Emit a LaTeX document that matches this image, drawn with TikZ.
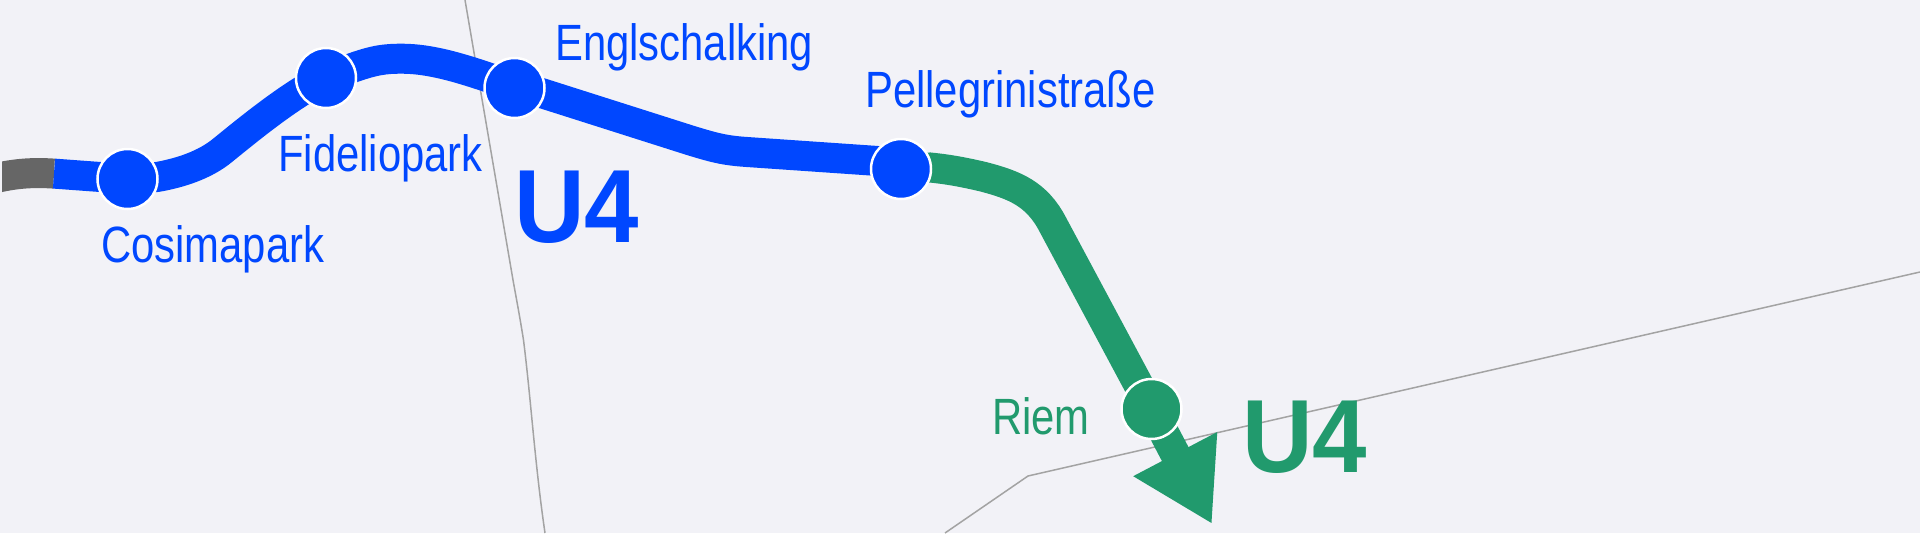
\documentclass[tikz,border=0pt]{standalone}
\usepackage{fontspec}
\setmainfont{Liberation Sans}
\usepackage{xcolor}
\usetikzlibrary{arrows.meta,backgrounds,positioning}
\definecolor{pagebg}{HTML}{F2F2F7}
\definecolor{lineblue}{HTML}{0047FF}
\definecolor{linegreen}{HTML}{219A6D}
\definecolor{linegray}{HTML}{666666}
\definecolor{thingray}{HTML}{A3A3A3}

\begin{document}
\begin{tikzpicture}[x=1pt, y=-1pt, >={Triangle[length=79pt,width=89pt]}, track/.style={line width=30pt}, border/.style={draw=thingray, line width=1.5pt}]
    % Define styles for stations, their names and the line badges
    \tikzstyle{station} = [circle, draw=white, line width=2.5pt, minimum size=60pt, inner sep=0pt]
    \tikzstyle{stationname} = [anchor=base west, inner sep=0pt, font=\fontsize{51}{51}\selectfont, xscale=0.82, transform shape]
    \tikzstyle{linename} = [anchor=base west, inner sep=0pt, font=\fontsize{104}{104}\selectfont\bfseries, xscale=0.94, transform shape]

    \useasboundingbox (0,0) rectangle (1920,533);

    % Nodes placement
    \node [station, fill=lineblue] (cosimapark) at (127.5,179) {};
    \node [station, fill=lineblue] (fideliopark) at (326,78) {};
    \node [station, fill=lineblue] (englschalking) at (514.5,88) {};
    \node [station, fill=lineblue] (pellegrini) at (901,169) {};
    \node [station, fill=linegreen] (riem) at (1151.5,409) {};
    \coordinate (linestart) at (-8,179);
    \coordinate (grayend) at (54,173.6);
    \coordinate (lineend) at (1212,524);

    % Labels
    \node [stationname, text=lineblue] (cosimaparklabel) at (101,262) {Cosimapark};
    \node [stationname, text=lineblue] (fidelioparklabel) at (278,171) {Fideliopark};
    \node [stationname, text=lineblue] (englschalkinglabel) at (555,60) {Englschalking};
    \node [stationname, text=lineblue] (pellegrinilabel) at (865,107) {Pellegrinistraße};
    \node [stationname, text=linegreen] (riemlabel) at (992,434) {Riem};
    \node [linename, text=lineblue] (bluebadge) at (514,242) {U4};
    \node [linename, text=linegreen] (greenbadge) at (1242,472) {U4};

    \begin{scope}[on background layer]
        \fill[pagebg] (0,0) rectangle (1920,533);

        % Thin borders
        \draw[border] (465,0) -- (513,280) .. controls (517,302) and (520,318) .. (523.5,340)
            .. controls (531,400) and (535,465) .. (545,533);
        \draw[border] (1920,272) -- (1028,476) -- (945,533);

        % Draw tracks
        \begin{scope}
            \clip (2,0) rectangle (100,533);
            \draw[track, linegray] (linestart) .. controls (12,174) and (30,172) .. (grayend);
        \end{scope}
        \draw[track, lineblue] (grayend) -- (cosimapark.center) -- (157,177) .. controls (180,173) and (205,165) .. (223,150)
            .. controls (250,128) and (275,108) .. (301,91.5) -- (fideliopark.center)
            -- (353.5,67.5) .. controls (375,60) and (385,58.7) .. (402,58.7)
            .. controls (430,58.7) and (460,68) .. (487,77) -- (englschalking.center)
            -- (535,91) -- (690,140.3) .. controls (715,148) and (725,150.5) .. (747,152)
            -- (885,161.5) -- (pellegrini.center);
        \draw[track, linegreen, ->] (pellegrini.center) -- (930,167.5) .. controls (950,169.5) and (965,172.5) .. (983,176.7)
            .. controls (1015,185) and (1037,194) .. (1053,225) -- (riem.center) -- (lineend);
    \end{scope}
\end{tikzpicture}
\end{document}
